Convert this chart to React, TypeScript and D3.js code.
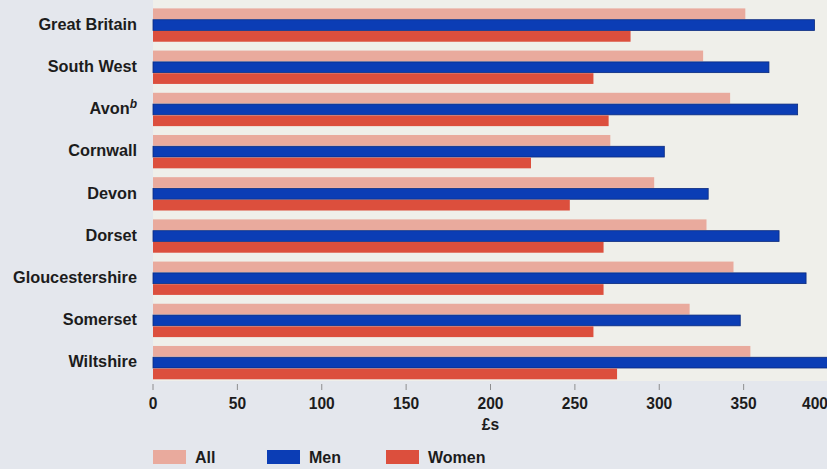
import React from 'react';
import * as d3 from 'd3';

const regions = ['Great Britain', 'South West', 'Avon', 'Cornwall', 'Devon', 'Dorset', 'Gloucestershire', 'Somerset', 'Wiltshire'];
const allValues = [351, 326, 342, 271, 297, 328, 344, 318, 354];
const menValues = [392, 365, 382, 303, 329, 371, 387, 348, 402];
const womenValues = [283, 261, 270, 224, 247, 267, 267, 261, 275];
const seriesNames = ['All', 'Men', 'Women'];
const xTicks = [0, 50, 100, 150, 200, 250, 300, 350, 400];

const colors: Record<string, string> = { All: '#e9aa9d', Men: '#0b3db5', Women: '#dc4f3d' };
const strokes: Record<string, string> = { All: 'none', Men: '#0a2a7e', Women: 'none' };

const W = 827;
const H = 469;
const font = '"Liberation Sans", Arial, sans-serif';

export default function App() {
  const x = d3.scaleLinear().domain([0, 400]).range([153, 828]);
  const y = d3.scaleBand<string>().domain(regions).range([8.4, 379.3]).paddingInner(0.21).paddingOuter(0);
  const ySeries = d3.scaleBand<string>().domain(seriesNames).range([0, y.bandwidth()]).paddingInner(0.05);

  const valuesFor = (s: string) => (s === 'All' ? allValues : s === 'Men' ? menValues : womenValues);
  const legendX = [153, 267, 386];

  return (
    <svg width={W} height={H} style={{ position: 'absolute', left: 0, top: 0, display: 'block' }}>
      <rect x={0} y={0} width={W} height={H} fill="#e4e7ed" />
      <rect x={x(0)} y={0} width={W - x(0)} height={381} fill="#efefea" />
      {regions.map((r, i) => (
        <g key={r} transform={`translate(0,${y(r)})`}>
          {seriesNames.map(s => (
            <rect
              key={s}
              x={x(0)}
              y={ySeries(s)}
              width={x(valuesFor(s)[i]) - x(0)}
              height={ySeries.bandwidth()}
              fill={colors[s]}
              stroke={strokes[s]}
              strokeWidth={0.8}
            />
          ))}
          <text
            x={137}
            y={(ySeries('Men') as number) + ySeries.bandwidth() / 2 - 1}
            dy="0.35em"
            textAnchor="end"
            fontFamily={font}
            fontWeight="bold"
            fontSize={16.3}
            fill="#1c1c1c"
          >
            {r === 'Avon' ? (
              <>
                Avon
                <tspan fontStyle="italic" fontSize={12} dy="-6">b</tspan>
              </>
            ) : (
              r
            )}
          </text>
        </g>
      ))}
      {xTicks.map((t, i) => (
        <g key={t} transform={`translate(${x(t)},0)`}>
          <line y1={384} y2={390} stroke="#777" strokeWidth={0.8} />
          <text
            y={409}
            textAnchor={i === xTicks.length - 1 ? 'end' : 'middle'}
            fontFamily={font}
            fontWeight="bold"
            fontSize={15.6}
            fill="#1c1c1c"
          >
            {t}
          </text>
        </g>
      ))}
      <text x={x(200)} y={430} textAnchor="middle" fontFamily={font} fontWeight="bold" fontSize={15.6} fill="#1c1c1c">
        £s
      </text>
      {seriesNames.map((s, i) => (
        <g key={s} transform={`translate(${legendX[i]},450)`}>
          <rect width={33} height={14} fill={colors[s]} />
          <text x={42} y={13} fontFamily={font} fontWeight="bold" fontSize={16} fill="#1c1c1c">
            {s}
          </text>
        </g>
      ))}
    </svg>
  );
}
